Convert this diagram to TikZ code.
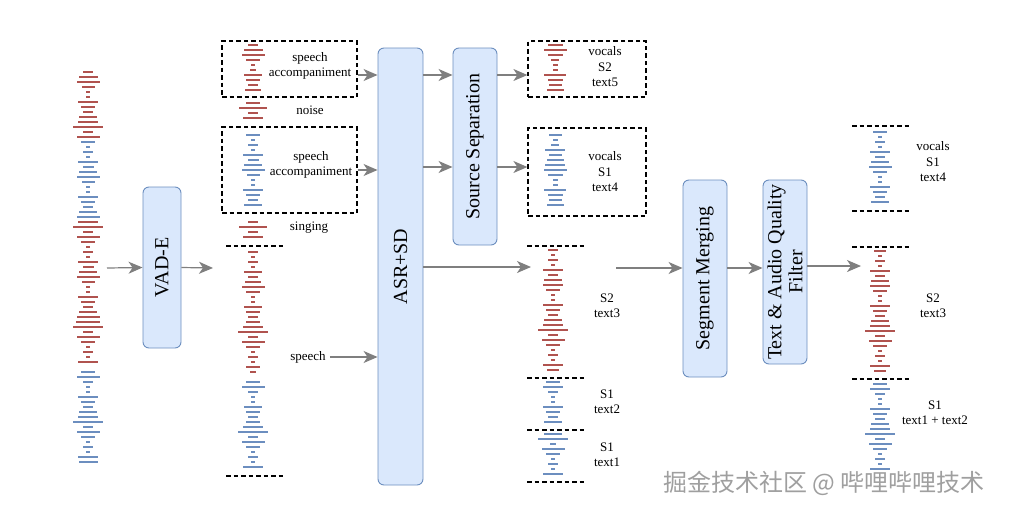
\documentclass[tikz,border=0pt]{standalone}
\usepackage{fontspec}
\setmainfont{Liberation Serif}
\newfontfamily\cjk{Noto Sans CJK SC}
\usepackage{tikz}
\usepackage{xcolor}
\usetikzlibrary{arrows.meta}

\definecolor{barred}{HTML}{B0534F}
\definecolor{barblue}{HTML}{6C8EBF}
\definecolor{boxfill}{HTML}{DAE8FC}
\definecolor{boxline}{HTML}{6C8EBF}
\definecolor{arrgray}{HTML}{7F7F7F}

\newcommand{\wavebars}[4]{%
  \foreach \w [count=\i from 0] in {#4}
    \fill[#3] (#1-\w/2, #2+\i*5-1.4) rectangle ++(\w, 2.8);%
}

\begin{document}
\begin{tikzpicture}[x=1pt, y=-1pt,
  stage/.style={draw=boxline, fill=boxfill, rounded corners=6pt, line width=0.9pt, inner sep=0pt, font=\fontsize{20}{22}\selectfont},
  clip box/.style={draw, dashed, dash pattern=on 4.5pt off 3pt, line width=1.2pt, inner sep=0pt},
  tag/.style={align=center, inner sep=1pt, font=\fontsize{13}{15.5}\selectfont},
  arr/.style={-{Stealth[length=14pt, width=12pt, inset=4pt]}, draw=arrgray, line width=1.2pt},
  cut/.style={dashed, dash pattern=on 4.5pt off 3pt, line width=1.2pt}]
\useasboundingbox (0,0) rectangle (1010,512);

\wavebars{88}{72}{barred}{10,19,23,13,4,4,20,14,10,18,20,30,10,23}
\wavebars{88}{142}{barblue}{14,4,10,4,20,11,18,23,13,4,4,20,14,10,18,23}
\wavebars{88}{222}{barred}{20,30,10,23,14,4,10,4,20,11,18,23,13,4,4,20,14,10,18,23,24,30,10,23,14,4,10,4,20}
\wavebars{88}{372}{barblue}{14,23,10,4,4,20,14,10,18,20,30,10,23,14,4,10,4,20,19}
\coordinate (wavein) at (107,268);

\node[stage, minimum width=38pt, minimum height=161pt] (vad) at (162,267.5) {\rotatebox{90}{VAD-E}};
\draw[arr] (wavein) -- (vad.west);
\coordinate (segin) at (213,268);
\draw[arr] (vad.east) -- (segin);

\node[clip box, minimum width=135pt, minimum height=56pt] (mix1) at (289.5,69) {};
\wavebars{253}{45}{barred}{10,19,23,14,4,6,18,14,10,16}
\node[tag] (mixtag1) at (310,66) {speech\\accompaniment};

\wavebars{253}{103}{barred}{14,28,10,20}
\node[tag] (noise) at (310,110) {noise};

\node[clip box, minimum width=135pt, minimum height=86pt] (mix2) at (289.5,170) {};
\wavebars{253}{135}{barblue}{14,4,10,4,20,11,18,23,13,4,4,20,14,10,18}
\node[tag] (mixtag2) at (311,165) {speech\\accompaniment};

\wavebars{253}{222}{barred}{10,28,10,20}
\node[tag] (singing) at (309,228) {singing};

\draw[cut] (226,246) -- (285,246);
\wavebars{253}{252}{barred}{10,4,10,4,18,10,16,23,14,4,4,18,14,10,14,20,30,10,23,14,4,10,4,14,6}
\wavebars{253}{382}{barblue}{14,23,10,4,4,18,14,10,14,20,30,10,23,14,4,10,4,20}
\draw[cut] (226,476) -- (285,476);
\node[tag] (speech) at (308,357) {speech};

\node[stage, minimum width=45pt, minimum height=437pt] (asr) at (400.5,266.5) {\rotatebox{90}{ASR+SD}};
\coordinate (rowa) at (0,75);
\coordinate (rowb) at (0,167);
\draw[arr] (mix1.east |- rowa) -- (asr.west |- rowa);
\draw[arr] (mix2.east) -- (mix2.east -| asr.west);
\draw[arr] ([xshift=3pt]speech.east) -- (speech.east -| asr.west);

\node[stage, minimum width=44pt, minimum height=197pt] (sep) at (475,146.5) {\rotatebox{90}{Source Separation}};
\draw[arr] (asr.east |- rowa) -- (sep.west |- rowa);
\draw[arr] (asr.east |- rowb) -- (sep.west |- rowb);

\node[clip box, minimum width=118pt, minimum height=56pt] (voc1) at (587,69) {};
\wavebars{555}{45}{barred}{15,23,15,8,5,5,22,15,13,17}
\node[tag] (voctag1) at (605,67) {vocals\\S2\\text5};

\node[clip box, minimum width=118pt, minimum height=88pt] (voc2) at (587,172) {};
\wavebars{555}{135}{barblue}{13,5,8,20,13,17,20,23,15,5,5,22,15,13,17}
\node[tag] (voctag2) at (605,172) {vocals\\S1\\text4};

\draw[arr] (sep.east |- rowa) -- (voc1.west |- rowa);
\draw[arr] (sep.east |- rowb) -- (voc2.west |- rowb);

\coordinate (spkin) at (531,267);
\draw[arr] (asr.east |- spkin) -- (spkin);

\draw[cut] (527,246) -- (585,246);
\wavebars{553}{250}{barred}{10,4,10,4,20,10,18,20,14,4,4,20,14,10,18,20,30,10,23,14,4,10,4,20,12}
\draw[cut] (527,378) -- (585,378);
\wavebars{553}{382}{barblue}{14,20,10,4,4,20,14,10,18}
\draw[cut] (527,430) -- (585,430);
\wavebars{553}{434}{barblue}{18,30,6,23,14,4,10,4,20}
\draw[cut] (527,482) -- (585,482);
\node[tag] (spk3) at (607,306) {S2\\text3};
\node[tag] (spk2) at (607,402) {S1\\text2};
\node[tag] (spk1) at (607,455) {S1\\text1};

\node[stage, minimum width=44pt, minimum height=197pt] (merge) at (705,278.5) {\rotatebox{90}{Segment Merging}};
\coordinate (spkout) at (616,268);
\draw[arr] (spkout) -- (spkout -| merge.west);

\node[stage, minimum width=44pt, minimum height=184pt] (filter) at (785,272) {\rotatebox{90}{\shortstack{Text \& Audio Quality\\Filter}}};
\draw[arr] (merge.east |- spkout) -- (filter.west |- spkout);

\coordinate (finalin) at (861,266);
\draw[arr] (filter.east |- finalin) -- (finalin);

\draw[cut] (852,126) -- (910,126);
\wavebars{880}{132}{barblue}{14,4,10,4,20,10,18,23,14,4,4,20,14,10,18}
\draw[cut] (852,211) -- (910,211);
\node[tag] (outtag1) at (933,162) {vocals\\S1\\text4};

\draw[cut] (852,247) -- (910,247);
\wavebars{880}{251}{barred}{12,4,10,4,20,10,18,20,14,4,4,20,14,10,18,20,30,10,23,14,4,10,4,20,12}
\draw[cut] (852,379) -- (910,379);
\node[tag] (outtag2) at (933,306) {S2\\text3};

\wavebars{880}{384}{barblue}{14,20,10,4,4,20,14,10,18,20,30,10,23,14,4,10,4,20}
\node[tag] (outtag3) at (935,413) {S1\\text1 + text2};

\node[font=\cjk\fontsize{24}{24}\selectfont, text=gray!75] (mark) at (824,483) {掘金技术社区 @ 哔哩哔哩技术};
\end{tikzpicture}
\end{document}
